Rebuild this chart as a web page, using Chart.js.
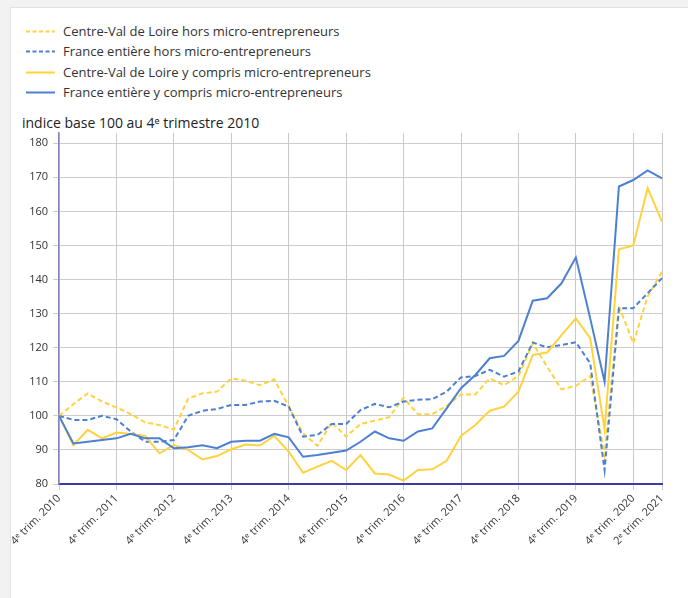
<!DOCTYPE html>
<html lang="fr">
<head>
<meta charset="utf-8">
<script src="https://cdn.jsdelivr.net/npm/chart.js@4"></script>
<style>
  html, body { margin: 0; padding: 0; }
  body { width: 688px; height: 598px; background: #f2f2f2; position: relative; overflow: hidden; font-family: "Open Sans", "Noto Sans", sans-serif; color: #333; }
  #panel { position: absolute; left: 10px; top: 7px; width: 678px; height: 591px; background: #fff; border-left: 1px solid #e3e3e3; border-top: 1px solid #e3e3e3; box-sizing: border-box; }
  .leg { position: absolute; left: 26px; height: 20px; font-size: 13px; line-height: 20px; white-space: nowrap; color: #333; }
  .leg svg { position: absolute; left: 0; top: 9px; }
  .leg span { position: absolute; left: 37px; top: 0; }
  #ytitle { position: absolute; left: 22px; top: 113px; font-size: 14px; line-height: 20px; color: #222; white-space: nowrap; }
  #c { position: absolute; left: 10px; top: 110px; }
</style>
</head>
<body>
<div id="panel"></div>
<div id="legend"></div>
<div id="ytitle">indice base 100 au 4ᵉ trimestre 2010</div>
<canvas id="c" width="678" height="488"></canvas>
<script>
// ---- Data ----
const quarters = [
  "4ᵉ trim. 2010",
  "1ᵉʳ trim. 2011", "2ᵉ trim. 2011", "3ᵉ trim. 2011", "4ᵉ trim. 2011",
  "1ᵉʳ trim. 2012", "2ᵉ trim. 2012", "3ᵉ trim. 2012", "4ᵉ trim. 2012",
  "1ᵉʳ trim. 2013", "2ᵉ trim. 2013", "3ᵉ trim. 2013", "4ᵉ trim. 2013",
  "1ᵉʳ trim. 2014", "2ᵉ trim. 2014", "3ᵉ trim. 2014", "4ᵉ trim. 2014",
  "1ᵉʳ trim. 2015", "2ᵉ trim. 2015", "3ᵉ trim. 2015", "4ᵉ trim. 2015",
  "1ᵉʳ trim. 2016", "2ᵉ trim. 2016", "3ᵉ trim. 2016", "4ᵉ trim. 2016",
  "1ᵉʳ trim. 2017", "2ᵉ trim. 2017", "3ᵉ trim. 2017", "4ᵉ trim. 2017",
  "1ᵉʳ trim. 2018", "2ᵉ trim. 2018", "3ᵉ trim. 2018", "4ᵉ trim. 2018",
  "1ᵉʳ trim. 2019", "2ᵉ trim. 2019", "3ᵉ trim. 2019", "4ᵉ trim. 2019",
  "1ᵉʳ trim. 2020", "2ᵉ trim. 2020", "3ᵉ trim. 2020", "4ᵉ trim. 2020",
  "1ᵉʳ trim. 2021", "2ᵉ trim. 2021"
];
const tickLabels = [
  "4ᵉ trim. 2010", "4ᵉ trim. 2011", "4ᵉ trim. 2012", "4ᵉ trim. 2013",
  "4ᵉ trim. 2014", "4ᵉ trim. 2015", "4ᵉ trim. 2016", "4ᵉ trim. 2017",
  "4ᵉ trim. 2018", "4ᵉ trim. 2019", "4ᵉ trim. 2020", "2ᵉ trim. 2021"
];
const seriesNames = [
  "Centre-Val de Loire hors micro-entrepreneurs",
  "France entière hors micro-entrepreneurs",
  "Centre-Val de Loire y compris micro-entrepreneurs",
  "France entière y compris micro-entrepreneurs"
];
const cvlHors = [100, 103.4, 106.6, 104.2, 102.5, 100.5, 98.1, 97.3, 96.0, 105.1, 106.6, 107.1, 111.0, 110.3, 109.0, 110.7, 102.7, 94.9, 91.2, 98.1, 93.9, 97.6, 98.6, 99.6, 105.3, 100.5, 100.5, 102.9, 106.3, 106.3, 111.0, 109.0, 111.7, 121.3, 114.4, 107.8, 108.8, 111.7, 88.5, 132.2, 121.3, 135.0, 142.3];
const franceHors = [100, 98.8, 98.8, 100, 99.0, 95.4, 92.4, 92.4, 92.9, 100, 101.5, 102, 103.2, 103.2, 104.2, 104.4, 102.7, 93.9, 94.4, 97.6, 97.6, 101.7, 103.5, 102.5, 104.2, 104.7, 104.9, 107.1, 111.3, 111.7, 113.5, 111.5, 113.0, 121.5, 120.1, 120.8, 121.6, 115.4, 84.1, 131.6, 131.6, 136.0, 140.4];
const cvlYCompris = [100, 91.4, 95.9, 93.4, 95.1, 94.7, 94.1, 89.0, 91.4, 90.0, 87.2, 88.2, 90.2, 91.6, 91.3, 94.1, 89.5, 83.3, 85.1, 86.8, 84.1, 88.5, 83.1, 82.8, 81.0, 84.1, 84.3, 86.8, 94.1, 97.3, 101.5, 102.7, 107.1, 117.9, 118.6, 123.7, 128.6, 122.8, 96.0, 148.9, 150.0, 166.8, 157.0];
const franceYCompris = [100, 91.9, 92.4, 92.9, 93.4, 94.7, 93.4, 93.4, 90.5, 90.8, 91.4, 90.5, 92.4, 92.7, 92.7, 94.7, 93.7, 88.0, 88.5, 89.2, 89.8, 92.4, 95.4, 93.4, 92.7, 95.4, 96.3, 102.2, 108.1, 112.0, 116.9, 117.6, 122.0, 133.8, 134.5, 138.9, 146.5, 128.6, 110.0, 167.3, 169.2, 172.0, 169.7];

// ---- Styles ----
const YELLOW = "#ffd23f";
const BLUE = "#4d80d2";
const styles = [
  { color: YELLOW, dash: [5, 3] },
  { color: BLUE, dash: [5, 3] },
  { color: YELLOW, dash: [] },
  { color: BLUE, dash: [] }
];
const seriesData = [cvlHors, franceHors, cvlYCompris, franceYCompris];

// HTML legend
const legendEl = document.getElementById('legend');
const legendTops = [21, 41, 62, 82];
seriesNames.forEach((name, k) => {
  const d = document.createElement('div');
  d.className = 'leg';
  d.style.top = legendTops[k] + 'px';
  const dash = styles[k].dash.length ? 'stroke-dasharray="4 2.5"' : '';
  d.innerHTML = '<svg width="29" height="3"><line x1="0" y1="1.5" x2="29" y2="1.5" stroke="' + styles[k].color + '" stroke-width="2" ' + dash + '/></svg><span></span>';
  d.querySelector('span').textContent = name;
  legendEl.appendChild(d);
});

const datasets = seriesNames.map((name, k) => ({
  label: name,
  data: seriesData[k],
  borderColor: styles[k].color,
  backgroundColor: 'transparent',
  borderDash: styles[k].dash,
  borderWidth: 2,
  pointRadius: 0,
  pointHoverRadius: 0,
  tension: 0,
  fill: false,
  order: 4 - k
}));

new Chart(document.getElementById('c'), {
  type: 'line',
  data: { labels: quarters, datasets },
  options: {
    responsive: false,
    animation: false,
    events: [],
    layout: { padding: { top: 23, left: 0, right: 26, bottom: 0 } },
    plugins: { legend: { display: false }, title: { display: false }, tooltip: { enabled: false } },
    scales: {
      x: {
        type: 'category',
        offset: false,
        afterBuildTicks: (scale) => {
          scale.ticks = scale.ticks.filter(t => tickLabels.includes(quarters[t.value]));
        },
        afterFit: (scale) => { scale.height = 114; },
        grid: { color: '#c9c9c9', lineWidth: 1, tickLength: 6, drawOnChartArea: true },
        border: { color: '#3c3ca0', width: 2 },
        ticks: {
          autoSkip: false,
          minRotation: 45,
          maxRotation: 45,
          padding: 2,
          color: '#333',
          font: { family: '"Open Sans", "Noto Sans", sans-serif', size: 11 },
          callback: function (value) { return this.getLabelForValue(value); }
        }
      },
      y: {
        min: 80,
        max: 183,
        afterFit: (scale) => { scale.width = 49; },
        grid: { color: '#cccccc', lineWidth: 1, tickLength: 6 },
        border: { color: '#8585c2', width: 1.5 },
        ticks: {
          stepSize: 10,
          includeBounds: false,
          padding: 5,
          color: '#333',
          font: { family: '"Open Sans", "Noto Sans", sans-serif', size: 11 }
        }
      }
    }
  }
});
</script>
</body>
</html>
